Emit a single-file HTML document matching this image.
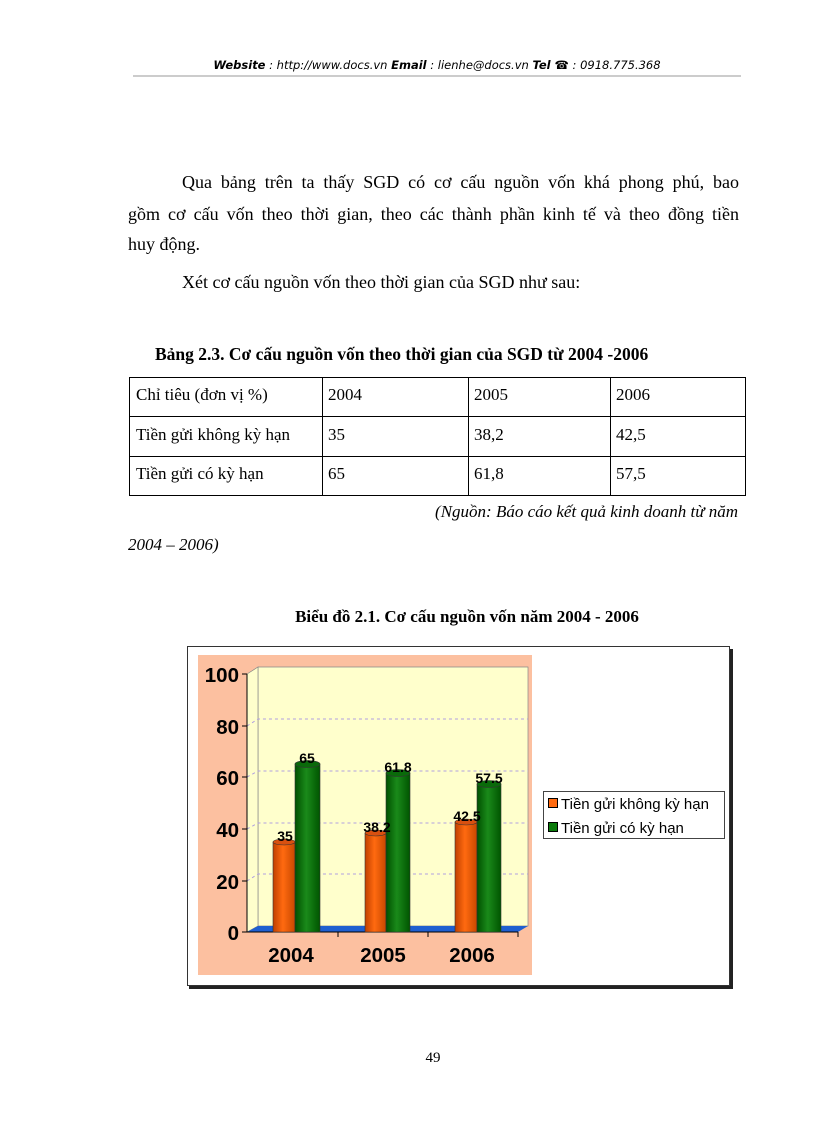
<!DOCTYPE html>
<html><head><meta charset="utf-8"><style>body{margin:0;background:#fff;position:relative}svg{display:block}
.l{position:absolute;font-family:"Liberation Serif",serif;font-size:18px;line-height:20px;text-align:justify;text-align-last:justify;color:#000;white-space:nowrap}</style></head><body>
<div class="l" style="top:172px;left:182px;width:557px">Qua bảng trên ta thấy SGD có cơ cấu nguồn vốn khá phong phú, bao</div>
<div class="l" style="top:204px;left:128px;width:611px">gồm cơ cấu vốn theo thời gian, theo các thành phần kinh tế và theo đồng tiền</div>
<svg width="816" height="1123" xmlns="http://www.w3.org/2000/svg" font-family="Liberation Serif, serif">
<defs>
<linearGradient id="og" x1="0" x2="1"><stop offset="0" stop-color="#c04000"/><stop offset=".45" stop-color="#ff6a10"/><stop offset="1" stop-color="#c84800"/></linearGradient>
<linearGradient id="gg" x1="0" x2="1"><stop offset="0" stop-color="#005000"/><stop offset=".45" stop-color="#1a8a1a"/><stop offset="1" stop-color="#005500"/></linearGradient>
</defs>
<text x="437" y="69" font-family="DejaVu Sans, sans-serif" font-size="11.5" font-style="italic" text-anchor="middle" fill="#000"><tspan font-weight="bold">Website</tspan> : http://www.docs.vn  <tspan font-weight="bold">Email</tspan>  : lienhe@docs.vn   <tspan font-weight="bold">Tel ☎</tspan> : 0918.775.368</text>
<line x1="133" y1="76" x2="741" y2="76" stroke="#999" stroke-width="1"/>
<g font-size="17.5" fill="#000">
<text x="128" y="250" font-size="18">huy động.</text>
<text x="182" y="288" font-size="18">Xét cơ cấu nguồn vốn theo thời gian của SGD như sau:</text>
<text x="155" y="360" font-weight="bold">Bảng 2.3. Cơ cấu nguồn vốn theo thời gian của SGD từ 2004 -2006</text>
</g>
<g stroke="#000" stroke-width="1" fill="none">
<rect x="129.5" y="377.5" width="616" height="118"/>
<line x1="129" y1="416.5" x2="746" y2="416.5"/><line x1="129" y1="456.5" x2="746" y2="456.5"/>
<line x1="322.5" y1="377" x2="322.5" y2="496"/><line x1="468.5" y1="377" x2="468.5" y2="496"/><line x1="610.5" y1="377" x2="610.5" y2="496"/>
</g>
<g font-size="17" fill="#000">
<text x="136" y="400">Chỉ tiêu (đơn vị %)</text><text x="328" y="400">2004</text><text x="474" y="400">2005</text><text x="616" y="400">2006</text>
<text x="136" y="440">Tiền gửi không kỳ hạn</text><text x="328" y="440">35</text><text x="474" y="440">38,2</text><text x="616" y="440">42,5</text>
<text x="136" y="479">Tiền gửi có kỳ hạn</text><text x="328" y="479">65</text><text x="474" y="479">61,8</text><text x="616" y="479">57,5</text>
<text x="738" y="517" font-style="italic" text-anchor="end">(Nguồn: Báo cáo kết quả kinh doanh từ năm</text>
<text x="128" y="550" font-style="italic">2004 – 2006)</text>
<text x="467" y="622" font-weight="bold" text-anchor="middle">Biểu đồ 2.1. Cơ cấu nguồn vốn năm 2004 - 2006</text>
<text x="433" y="1062" text-anchor="middle" font-size="15">49</text>
</g>
<rect x="189" y="649" width="544" height="340" fill="#222"/>
<rect x="187.5" y="646.5" width="542" height="339" fill="#fff" stroke="#333"/>
<rect x="198" y="655" width="334" height="320" fill="#fcc0a0"/>
<polygon points="258,667 528,667 528,926 258,926" fill="#ffffcc" stroke="#888" stroke-width="0.7"/>
<polygon points="247,674 258,667 258,926 247,932" fill="#ffffcc" stroke="#888" stroke-width="0.7"/>
<polygon points="247,932 258,926 528,926 518,932" fill="#1f5fd0"/>
<g stroke="#b0a0e0" stroke-dasharray="3,3" stroke-width="1" fill="none">
<polyline points="247,726 258,719 528,719"/><polyline points="247,777 258,771 528,771"/><polyline points="247,829 258,823 528,823"/><polyline points="247,881 258,874 528,874"/>
</g>
<line x1="247" y1="674" x2="247" y2="932" stroke="#000"/>
<line x1="242" y1="932" x2="518" y2="932" stroke="#000"/>
<g stroke="#000"><line x1="242" y1="674" x2="247" y2="674"/><line x1="242" y1="726" x2="247" y2="726"/><line x1="242" y1="777" x2="247" y2="777"/><line x1="242" y1="829" x2="247" y2="829"/><line x1="242" y1="881" x2="247" y2="881"/>
<line x1="338" y1="932" x2="338" y2="937"/><line x1="428" y1="932" x2="428" y2="937"/><line x1="518" y1="932" x2="518" y2="937"/></g>
<g font-family="Liberation Sans, sans-serif" font-weight="bold" font-size="20.5" text-anchor="end" fill="#000">
<text x="239" y="682">100</text><text x="239" y="734">80</text><text x="239" y="785">60</text><text x="239" y="837">40</text><text x="239" y="889">20</text><text x="239" y="940">0</text>
</g>
<g font-family="Liberation Sans, sans-serif" font-weight="bold" font-size="20.5" text-anchor="middle" fill="#000">
<text x="291" y="962">2004</text><text x="383" y="962">2005</text><text x="472" y="962">2006</text>
</g>
<g stroke="#333" stroke-width="0.6">
<path d="M273,842 V932 H295 V842 Z" fill="url(#og)"/><ellipse cx="284" cy="842" rx="11" ry="3" fill="#d85010"/>
<path d="M295,764 V932 H320 V764 Z" fill="url(#gg)"/><ellipse cx="307.5" cy="764" rx="12.5" ry="3.5" fill="#0a6a0a"/>
<path d="M365,833 V932 H386 V833 Z" fill="url(#og)"/><ellipse cx="375.5" cy="833" rx="10.5" ry="3" fill="#d85010"/>
<path d="M386,773 V932 H410 V773 Z" fill="url(#gg)"/><ellipse cx="398" cy="773" rx="12" ry="3.5" fill="#0a6a0a"/>
<path d="M455,822 V932 H477 V822 Z" fill="url(#og)"/><ellipse cx="466" cy="822" rx="11" ry="3" fill="#d85010"/>
<path d="M477,784 V932 H501 V784 Z" fill="url(#gg)"/><ellipse cx="489" cy="784" rx="12" ry="3.5" fill="#0a6a0a"/>
</g>
<g font-family="Liberation Sans, sans-serif" font-weight="bold" font-size="14" text-anchor="middle" fill="#000">
<text x="285" y="841">35</text><text x="307" y="763">65</text>
<text x="377" y="832">38.2</text><text x="398" y="772">61.8</text>
<text x="467" y="821">42.5</text><text x="489" y="783">57.5</text>
</g>
<rect x="543.5" y="791.5" width="181" height="47" fill="#fff" stroke="#444"/>
<rect x="548.5" y="798.5" width="9" height="9" fill="#ff6a10" stroke="#000"/>
<rect x="548.5" y="822.5" width="9" height="9" fill="#0a7a0a" stroke="#000"/>
<g font-family="Liberation Sans, sans-serif" font-size="15" fill="#000">
<text x="561" y="809">Tiền gửi không kỳ hạn</text><text x="561" y="833">Tiền gửi có kỳ hạn</text>
</g>
</svg>
</body></html>
